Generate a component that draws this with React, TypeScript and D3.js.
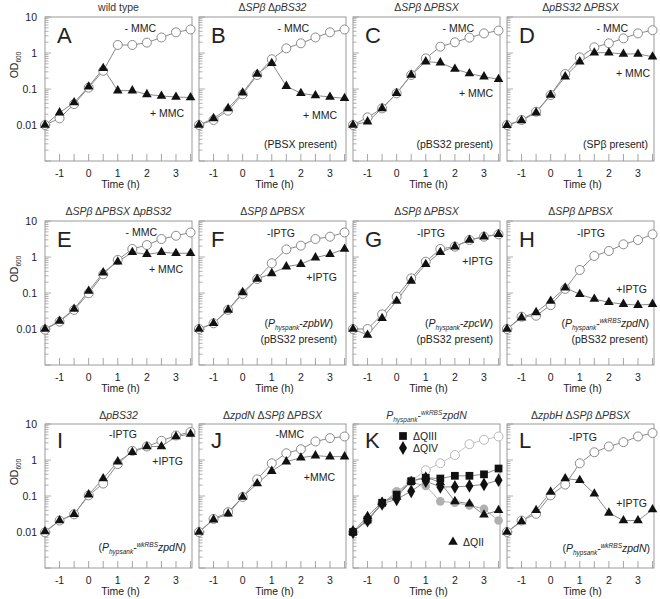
import * as d3 from "d3";
import React from "react";

// sampling times (h)
const hours = [-1.5, -1, -0.5, 0, 0.5, 1, 1.5, 2, 2.5, 3, 3.5];

const aOpen = [0.01, 0.0153, 0.038, 0.109, 0.32, 1.67, 1.67, 1.94, 2.7, 3.75, 4.5];
const aTri = [0.01, 0.022, 0.042, 0.116, 0.375, 0.09, 0.09, 0.071, 0.064, 0.06, 0.058];
const bOpen = [0.01, 0.0138, 0.025, 0.071, 0.245, 0.67, 1.35, 1.86, 2.7, 3.75, 4.5];
const bTri = [0.01, 0.0153, 0.029, 0.079, 0.26, 0.52, 0.12, 0.076, 0.066, 0.06, 0.055];
const cOpen = [0.01, 0.0163, 0.029, 0.076, 0.245, 0.71, 1.5, 1.98, 2.67, 3.5, 4.2];
const cTri = [0.01, 0.0124, 0.029, 0.076, 0.245, 0.575, 0.54, 0.36, 0.27, 0.22, 0.186];
const dOpen = [0.01, 0.0138, 0.0234, 0.068, 0.26, 0.76, 1.44, 1.86, 2.55, 3.5, 4.3];
const dTri = [0.0098, 0.0133, 0.022, 0.068, 0.22, 0.575, 1.02, 1.02, 0.94, 0.94, 0.79];
const eOpen = [0.0096, 0.016, 0.034, 0.098, 0.33, 0.83, 1.67, 2.15, 3.16, 3.9, 4.8];
const eTri = [0.01, 0.0167, 0.036, 0.114, 0.367, 0.74, 1.35, 1.19, 1.35, 1.27, 1.27];
const fOpen = [0.01, 0.0144, 0.034, 0.094, 0.245, 0.67, 1.63, 2.07, 3.16, 3.67, 4.8];
const fTri = [0.01, 0.0144, 0.034, 0.104, 0.245, 0.35, 0.54, 0.63, 0.96, 1.19, 1.67];
const gOpen = [0.01, 0.01, 0.0255, 0.079, 0.255, 0.74, 1.67, 1.94, 2.97, 3.67, 4.26];
const gTri = [0.01, 0.0068, 0.0198, 0.06, 0.215, 0.63, 1.35, 1.94, 2.97, 3.67, 4.26];
const hOpen = [0.01, 0.022, 0.0234, 0.046, 0.13, 0.435, 1.07, 1.47, 2.25, 2.97, 4.26];
const hTri = [0.01, 0.0207, 0.029, 0.06, 0.14, 0.092, 0.068, 0.055, 0.049, 0.046, 0.049];
const iOpen = [0.0098, 0.0208, 0.031, 0.104, 0.222, 0.77, 1.79, 2.37, 3.41, 4.8, 5.97];
const iTri = [0.0103, 0.0208, 0.031, 0.109, 0.306, 0.9, 1.64, 2.37, 2.37, 4.5, 5.25];
const jOpen = [0.01, 0.0231, 0.0356, 0.094, 0.29, 0.81, 1.54, 1.99, 3.27, 4.05, 4.5];
const jTri = [0.01, 0.0221, 0.032, 0.094, 0.222, 0.49, 0.9, 1.16, 1.32, 1.24, 1.24];
const kOpen = [0.01, 0.0208, 0.061, 0.13, 0.26, 0.52, 0.81, 1.38, 2.75, 3.64, 4.5];
const kGray = [0.01, 0.0208, 0.061, 0.13, 0.24, 0.19, 0.071, 0.065, 0.055, 0.044, 0.0208];
const kQII = [0.01, 0.0275, 0.068, 0.094, 0.258, 0.34, 0.236, 0.071, 0.061, 0.03, 0.04];
const kQIV = [0.01, 0.0208, 0.061, 0.081, 0.135, 0.258, 0.179, 0.179, 0.19, 0.21, 0.275];
const kQIII = [0.01, 0.022, 0.065, 0.109, 0.258, 0.32, 0.306, 0.364, 0.364, 0.4, 0.58];
const lOpen = [0.01, 0.0208, 0.032, 0.104, 0.208, 0.81, 1.64, 2.37, 3.13, 4.5, 5.6];
const lTri = [0.01, 0.0195, 0.04, 0.13, 0.306, 0.275, 0.116, 0.034, 0.0208, 0.0208, 0.042];

const xTickValues = [-1, 0, 1, 2, 3];
const xTickLabels = ["-1", "0", "1", "2", "3"];
const yTickValues = [0.01, 0.1, 1, 10];
const yTickLabels = ["0.01", "0.1", "1", "10"];

type Seg = { t: string; s?: "i" | "sub" | "sup" };
type Kind = "open" | "openLight" | "tri" | "square" | "diamond" | "gray";
type Series = { values: number[]; kind: Kind };
type Note = { segs: Seg[]; dx: number; dy: number; anchor?: string; marker?: Kind };
type Panel = {
  letter: string;
  title: Seg[];
  col: number;
  row: number;
  series: Series[];
  notes: Note[];
};

const it = (t: string): Seg => ({ t, s: "i" });
const rg = (t: string): Seg => ({ t });
const sub = (t: string): Seg => ({ t, s: "sub" });
const sup = (t: string): Seg => ({ t, s: "sup" });

const minusMMC = [rg("- MMC")];
const plusMMC = [rg("+ MMC")];
const minusIPTG = [rg("-IPTG")];
const plusIPTG = [rg("+IPTG")];
const zpdNConstruct = [rg("("), it("P"), sub("hypsank"), rg("-"), sup("wkRBS"), it("zpdN"), rg(")")];

const panels: Panel[] = [
  {
    letter: "A", col: 0, row: 0, title: [rg("wild type")],
    series: [{ values: aOpen, kind: "open" }, { values: aTri, kind: "tri" }],
    notes: [{ segs: minusMMC, dx: 111, dy: 15 }, { segs: plusMMC, dx: 139, dy: 100 }],
  },
  {
    letter: "B", col: 1, row: 0, title: [rg("Δ"), it("SPβ"), rg(" Δ"), it("pBS32")],
    series: [{ values: bOpen, kind: "open" }, { values: bTri, kind: "tri" }],
    notes: [
      { segs: minusMMC, dx: 110, dy: 15 }, { segs: plusMMC, dx: 138, dy: 102 },
      { segs: [rg("(PBSX present)")], dx: 138, dy: 131 },
    ],
  },
  {
    letter: "C", col: 2, row: 0, title: [rg("Δ"), it("SPβ"), rg(" Δ"), it("PBSX")],
    series: [{ values: cOpen, kind: "open" }, { values: cTri, kind: "tri" }],
    notes: [
      { segs: minusMMC, dx: 121, dy: 15 }, { segs: plusMMC, dx: 140, dy: 80 },
      { segs: [rg("(pBS32 present)")], dx: 140, dy: 131 },
    ],
  },
  {
    letter: "D", col: 3, row: 0, title: [rg("Δ"), it("pBS32"), rg(" Δ"), it("PBSX")],
    series: [{ values: dOpen, kind: "open" }, { values: dTri, kind: "tri" }],
    notes: [
      { segs: minusMMC, dx: 121, dy: 15 }, { segs: plusMMC, dx: 143, dy: 60 },
      { segs: [rg("(SPβ present)")], dx: 141, dy: 131 },
    ],
  },
  {
    letter: "E", col: 0, row: 1, title: [rg("Δ"), it("SPβ"), rg(" Δ"), it("PBSX"), rg(" Δ"), it("pBS32")],
    series: [{ values: eOpen, kind: "open" }, { values: eTri, kind: "tri" }],
    notes: [{ segs: minusMMC, dx: 112, dy: 14.5 }, { segs: plusMMC, dx: 138, dy: 52 }],
  },
  {
    letter: "F", col: 1, row: 1, title: [rg("Δ"), it("SPβ"), rg(" Δ"), it("PBSX")],
    series: [{ values: fOpen, kind: "open" }, { values: fTri, kind: "tri" }],
    notes: [
      { segs: minusIPTG, dx: 96, dy: 16 }, { segs: plusIPTG, dx: 138, dy: 60 },
      { segs: [rg("("), it("P"), sub("hyspank"), it("-zpbW"), rg(")")], dx: 134, dy: 106 },
      { segs: [rg("(pBS32 present)")], dx: 138, dy: 122 },
    ],
  },
  {
    letter: "G", col: 2, row: 1, title: [rg("Δ"), it("SPβ"), rg(" Δ"), it("PBSX")],
    series: [{ values: gOpen, kind: "open" }, { values: gTri, kind: "tri" }],
    notes: [
      { segs: minusIPTG, dx: 92, dy: 16 }, { segs: plusIPTG, dx: 140, dy: 44 },
      { segs: [rg("("), it("P"), sub("hyspank"), it("-zpcW"), rg(")")], dx: 140, dy: 106 },
      { segs: [rg("(pBS32 present)")], dx: 140, dy: 122 },
    ],
  },
  {
    letter: "H", col: 3, row: 1, title: [rg("Δ"), it("SPβ"), rg(" Δ"), it("PBSX")],
    series: [{ values: hOpen, kind: "open" }, { values: hTri, kind: "tri" }],
    notes: [
      { segs: minusIPTG, dx: 98, dy: 16 }, { segs: plusIPTG, dx: 140, dy: 72 },
      { segs: [rg("("), it("P"), sub("hyspank"), rg("-"), sup("wkRBS"), it("zpdN"), rg(")")], dx: 142, dy: 106 },
      { segs: [rg("(pBS32 present)")], dx: 141, dy: 122 },
    ],
  },
  {
    letter: "I", col: 0, row: 2, title: [rg("Δ"), it("pBS32")],
    series: [{ values: iOpen, kind: "open" }, { values: iTri, kind: "tri" }],
    notes: [
      { segs: minusIPTG, dx: 92, dy: 14 }, { segs: plusIPTG, dx: 138, dy: 41 },
      { segs: zpdNConstruct, dx: 141, dy: 127 },
    ],
  },
  {
    letter: "J", col: 1, row: 2, title: [rg("Δ"), it("zpdN"), rg(" Δ"), it("SPβ"), rg(" Δ"), it("PBSX")],
    series: [{ values: jOpen, kind: "open" }, { values: jTri, kind: "tri" }],
    notes: [{ segs: [rg("-MMC")], dx: 105, dy: 14 }, { segs: [rg("+MMC")], dx: 136, dy: 57 }],
  },
  {
    letter: "K", col: 2, row: 2, title: [it("P"), sub("hyspank"), rg("-"), sup("wkRBS"), it("zpdN")],
    series: [
      { values: kOpen, kind: "openLight" }, { values: kGray, kind: "gray" },
      { values: kQII, kind: "tri" }, { values: kQIV, kind: "diamond" }, { values: kQIII, kind: "square" },
    ],
    notes: [
      { segs: [rg("ΔQIII")], dx: 60, dy: 16, anchor: "start", marker: "square" },
      { segs: [rg("ΔQIV")], dx: 60, dy: 28, anchor: "start", marker: "diamond" },
      { segs: [rg("ΔQII")], dx: 110, dy: 122, anchor: "start", marker: "tri" },
    ],
  },
  {
    letter: "L", col: 3, row: 2, title: [rg("Δ"), it("zpbH"), rg(" Δ"), it("SPβ"), rg(" Δ"), it("PBSX")],
    series: [{ values: lOpen, kind: "open" }, { values: lTri, kind: "tri" }],
    notes: [
      { segs: minusIPTG, dx: 90, dy: 17 }, { segs: plusIPTG, dx: 140, dy: 83 },
      { segs: zpdNConstruct, dx: 143, dy: 128 },
    ],
  },
];

const W = 660, H = 599;
const colLeft = [45, 199, 353, 507];
const rowTop = [17, 221, 424];
const pw = 147, ph = 144;
const FONT = "'Liberation Sans', Arial, Helvetica, sans-serif";
const GRAY = "#9a9a9a";
const INK = "#222";

const x = d3.scaleLinear().domain([-1.5, 3.55]).range([0, pw]);
const y = d3.scaleLog().domain([0.001, 10]).range([ph, 0]);
const line = d3.line<number>().x((_, i) => x(hours[i])).y((v) => y(v));

const triPath = d3.symbol().type(d3.symbolTriangle).size(40)() as string;
const squarePath = d3.symbol().type(d3.symbolSquare).size(60)() as string;
const diamondPath = d3.symbol().type(d3.symbolDiamond).size(55)() as string;

function Marker({ kind, cx, cy }: { kind: Kind; cx: number; cy: number }) {
  const t = `translate(${cx},${cy})`;
  if (kind === "open") return <circle cx={cx} cy={cy} r={4.5} fill="#fff" stroke="#8a8a8a" strokeWidth={1} />;
  if (kind === "openLight") return <circle cx={cx} cy={cy} r={4.5} fill="#fff" stroke="#b8b8b8" strokeWidth={1} />;
  if (kind === "gray") return <circle cx={cx} cy={cy} r={4.3} fill="#b0b0b0" />;
  if (kind === "tri") return <path d={triPath} transform={t} fill="#111" />;
  if (kind === "square") return <path d={squarePath} transform={t} fill="#111" />;
  return <path d={diamondPath} transform={t} fill="#111" />;
}

function RichText({ segs, x: tx, y: ty, size, anchor, fill }: { segs: Seg[]; x: number; y: number; size: number; anchor: string; fill: string }) {
  let off = 0;
  const parts = segs.map((sg, k) => {
    const target = sg.s === "sub" ? 3 : sg.s === "sup" ? -4 : 0;
    const dy = target - off;
    off = target;
    const small = sg.s === "sub" || sg.s === "sup";
    return (
      <tspan key={k} dy={dy} fontSize={small ? size * 0.62 : size}
        fontStyle={sg.s === "i" || small ? "italic" : "normal"}>{sg.t}</tspan>
    );
  });
  return (
    <text x={tx} y={ty} textAnchor={anchor} fontFamily={FONT} fill={fill} fontSize={size}>{parts}</text>
  );
}

function PanelView({ p }: { p: Panel }) {
  const left = colLeft[p.col], top = rowTop[p.row];
  const yTicks = y.ticks();
  const xMinor = d3.range(-1, 3.51, 0.5);
  const lineColor = (k: Kind) => (k === "openLight" ? "#c4c4c4" : k === "gray" ? "#b0b0b0" : "#8a8a8a");
  return (
    <g transform={`translate(${left},${top})`}>
      <RichText segs={p.title} x={pw / 2} y={p.row === 2 ? -5 : -6.5} size={10.5} anchor="middle" fill="#333" />
      {/* y ticks (log minor + major) */}
      {yTicks.map((t, k) => {
        const major = Math.abs(Math.log10(t) - Math.round(Math.log10(t))) < 1e-9;
        return <line key={k} x1={0} x2={major ? 6 : 3.5} y1={y(t)} y2={y(t)} stroke={GRAY} strokeWidth={0.8} />;
      })}
      {xMinor.map((t, k) => (
        <line key={k} x1={x(t)} x2={x(t)} y1={ph} y2={ph - 7} stroke={GRAY} strokeWidth={0.9} />
      ))}
      <rect x={0} y={0} width={pw} height={ph} fill="none" stroke={GRAY} strokeWidth={1} />
      {p.series.map((s, k) => (
        <path key={k} d={line(s.values) as string} fill="none" stroke={lineColor(s.kind)} strokeWidth={1} />
      ))}
      {p.series.map((s, k) => (
        <g key={k}>
          {s.values.map((v, i) => <Marker key={i} kind={s.kind} cx={x(hours[i])} cy={y(v)} />)}
        </g>
      ))}
      <text x={12} y={p.row === 2 ? 24 : 26} fontFamily={FONT} fontSize={22} fill={INK}>{p.letter}</text>
      {p.notes.map((n, k) => (
        <g key={k}>
          {n.marker && <Marker kind={n.marker} cx={n.dx - 10} cy={n.dy - 4} />}
          <RichText segs={n.segs} x={n.dx} y={n.dy} size={10.5} anchor={n.anchor ?? "end"} fill={INK} />
        </g>
      ))}
      {xTickValues.map((t, k) => (
        <text key={k} x={x(t)} y={ph + 16} textAnchor="middle" fontFamily={FONT} fontSize={10.5} fill={INK}>{xTickLabels[k]}</text>
      ))}
      <text x={pw / 2 + 2} y={ph + 27} textAnchor="middle" fontFamily={FONT} fontSize={10.5} fill={INK}>Time (h)</text>
      {p.col === 0 && (
        <g>
          {yTickValues.map((t, k) => (
            <text key={k} x={-8} y={y(t) + 4} textAnchor="end" fontFamily={FONT} fontSize={10.5} fill={INK}>{yTickLabels[k]}</text>
          ))}
          <text transform={`translate(-27,${48}) rotate(-90)`} textAnchor="middle" fontFamily={FONT} fontSize={10.5} fill={INK}>
            <tspan>OD</tspan>
            <tspan fontSize={6.5} dy={3}>600</tspan>
          </text>
        </g>
      )}
    </g>
  );
}

export default function App() {
  return (
    <svg width={W} height={H} viewBox={`0 0 ${W} ${H}`}
      style={{ position: "absolute", left: 0, top: 0, background: "#fff" }}>
      {panels.map((p) => <PanelView key={p.letter} p={p} />)}
    </svg>
  );
}
